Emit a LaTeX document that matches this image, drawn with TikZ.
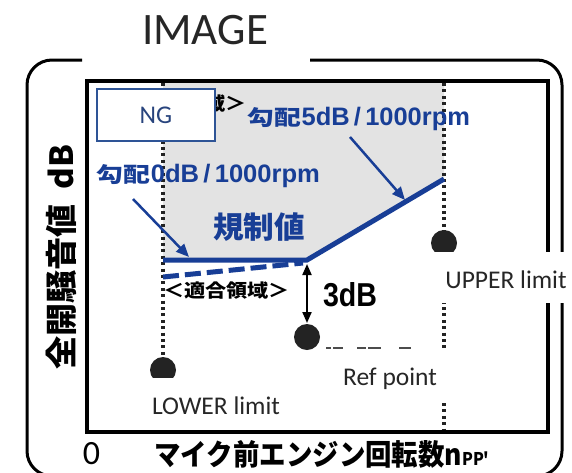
\documentclass[tikz,border=0pt]{standalone}
\usepackage{fontspec}
\setmainfont{Carlito}
\newfontfamily\jp{Noto Sans CJK JP}
\newfontfamily\arialfont{Liberation Sans}
\usetikzlibrary{arrows.meta}
\definecolor{regblue}{RGB}{24,62,150}
\definecolor{ngblue}{RGB}{46,84,150}
\definecolor{ngtext}{RGB}{40,68,125}
\definecolor{dotgray}{RGB}{35,35,35}
\newcommand\gradtext[1]{{\jp\bfseries 勾配}{\arialfont\bfseries\scalebox{0.95}[1.2]{#1dB\,/\,1000rpm}}}
\tikzset{
  frame/.style={line width=3pt},
  plotbox/.style={line width=3.5pt},
  dotline/.style={line width=3.2pt,dash pattern=on 3pt off 3.4pt,dotgray},
  shadearea/.style={fill=black!11},
  regline/.style={regblue,line width=5pt,line join=miter},
  dashreg/.style={regblue,line width=5pt,dash pattern=on 16pt off 6pt},
  bluearrow/.style={regblue,line width=2.5pt,-{Triangle[length=13pt,width=11pt]}},
  dimarrow/.style={black,line width=2pt,{Triangle[length=11pt,width=9pt]}-{Triangle[length=11pt,width=9pt]}},
  limitdot/.style={fill=dotgray},
  engtext/.style={font=\fontsize{25.5pt}{26pt}\selectfont,text=black!85,inner sep=0pt},
  whitebox/.style={fill=white,inner sep=0pt},
  jptext/.style={inner sep=0pt},
  ngbox/.style={draw=ngblue,line width=2pt,fill=white,minimum width=118pt,minimum height=52pt,inner sep=0pt,
    text=ngtext,font=\fontsize{25.5pt}{26pt}\selectfont},
  remnant/.style={line width=2pt,black!70}
}
\begin{document}
\begin{tikzpicture}[x=1pt,y=-1pt]
\useasboundingbox (0,0) rectangle (572,472);
\clip (0,0) rectangle (572,472);

% title
\node[font=\fontsize{45pt}{46pt}\selectfont,text=black!85,inner sep=0pt] (title) at (205,30.5) {IMAGE};

% outer frame (open at top)
\draw[frame,rounded corners=25pt] (82,60) -- (27,60) -- (27,476) -- (562,476) -- (562,60) -- (310,60);

% shaded (non-compliant) area
\fill[shadearea] (163,83) -- (444,83) -- (444,179) -- (307,260) -- (163,260) -- cycle;

% inner plot frame
\draw[plotbox] (87,81) rectangle (548,432);

% coordinates
\coordinate (lowtop) at (163,83);
\coordinate (lowbot) at (163,370);
\coordinate (uptop) at (444,83);
\coordinate (upbot) at (444,430);
\coordinate (regL) at (163,260);
\coordinate (regK) at (307,260);
\coordinate (regR) at (444,179);
\coordinate (dashL) at (163,277);
\coordinate (dashR) at (303,263);
\coordinate (dimtop) at (307,264);
\coordinate (dimbot) at (307,323);

% dotted limit lines
\draw[dotline] (lowtop) -- (lowbot);
\draw[dotline] (uptop) -- (upbot);

% limit dots
\fill[limitdot] (163,370) circle[radius=13pt];
\fill[limitdot] (444,243) circle[radius=13pt];
\node[circle,fill=dotgray,minimum size=26pt,inner sep=0pt] (refdot) at (307,337) {};

% remnants of covered text
\draw[remnant] (326,348) -- (331,348) (333,348) -- (343,348);
\draw[remnant] (357,348) -- (366,348) (368,348) -- (381,348);
\draw[remnant] (399,348) -- (411,348);

% hidden text behind NG box
\node[jptext,anchor=east] (ngarea) at (247,104) {\resizebox{148pt}{15.7pt}{\jp\bfseries ＜不適合領域＞}};

% NG box
\node[ngbox] (ng) at (156,115) {NG};

% regulation lines
\draw[dashreg] (dashL) -- (dashR);
\draw[regline] (regL) -- (regK) -- (regR);

% blue labels
\node[jptext,text=regblue] (g5) at (359,119) {\resizebox{222pt}{18.3pt}{\gradtext{5}}};
\node[jptext,text=regblue] (g0) at (208.5,176) {\resizebox{223pt}{18.3pt}{\gradtext{0}}};
\node[jptext,text=regblue] (kisei) at (259,227) {\resizebox{92pt}{25.8pt}{\jp\bfseries 規制値}};
\coordinate (a5s) at (350,137);
\coordinate (a5e) at (405,200);
\coordinate (a0s) at (133,199);
\coordinate (a0e) at (189,257);
\draw[bluearrow] (a5s) -- (a5e);
\draw[bluearrow] (a0s) -- (a0e);

% compliant area label
\node[jptext] (okarea) at (226.5,291) {\resizebox{127pt}{15.7pt}{\jp\bfseries ＜適合領域＞}};

% 3dB dimension
\draw[dimarrow] (dimtop) -- (dimbot);
\node[jptext] (threedb) at (350,295) {\resizebox{54pt}{24pt}{\arialfont\bfseries 3dB}};

% labels with white boxes
\node[whitebox,minimum width=142pt,minimum height=51pt] (upper) at (501,277.5) {};
\node[engtext] (uppertxt) at (506,280) {UPPER limit};
\node[whitebox,minimum width=127pt,minimum height=52pt] (refbox) at (388.5,376) {};
\node[engtext] (reftxt) at (390,379) {Ref point};
\node[whitebox,minimum width=155pt,minimum height=52pt] (lowbox) at (217.5,404) {};
\node[engtext] (lowtxt) at (216,406) {LOWER limit};

% axes labels
\node[jptext,rotate=90] (ylab) at (61,257) {\resizebox{225pt}{27.5pt}{\jp\bfseries 全開騒音値\hspace{0.45em}dB}};
\node[font=\fontsize{34pt}{34pt}\selectfont,text=black,inner sep=0pt] (zero) at (91.5,454) {0};
\node[jptext] (xlab) at (322,454) {\resizebox{335pt}{25pt}{\jp\bfseries マイク前エンジン回転数n{\fontsize{6pt}{6pt}\selectfont PP'}}};
\end{tikzpicture}
\end{document}
